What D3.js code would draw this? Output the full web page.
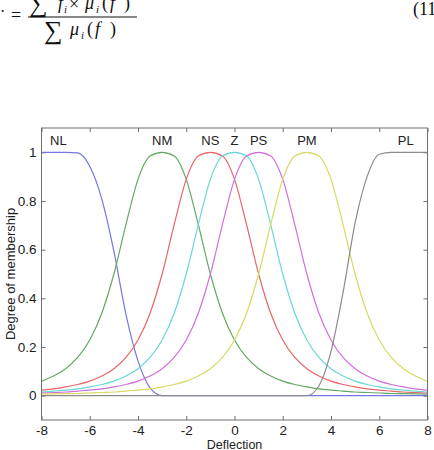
<!DOCTYPE html>
<html>
<head>
<meta charset="utf-8">
<script src="https://cdn.jsdelivr.net/npm/d3@7"></script>
<style>
  body { margin: 0; background: #fff; }
  svg { display: block; }
  .tick text { font-family: "Liberation Sans", Arial, sans-serif; font-size: 13.5px; fill: #222; }
  .eq { font-family: "Liberation Serif", "Times New Roman", serif; fill: #111; }
</style>
</head>
<body>
<div id="chart"></div>
<script>
// membership function data, sampled along the deflection axis
var deflection = [-8, -7.5, -7, -6.5, -6, -5.5, -5, -4.5, -4, -3.5, -3, -2.5, -2, -1.5, -1, -0.5,
  0, 0.5, 1, 1.5, 2, 2.5, 3, 3.5, 4, 4.5, 5, 5.5, 6, 6.5, 7, 7.5, 8];

var mfNames = ["NL", "NM", "NS", "Z", "PS", "PM", "PL"];
var mfColors = ["#7676e4", "#64a864", "#e86669", "#68d8d8", "#d26edc", "#d8da62", "#8c8c8c"];
var labelX = [-7.3, -3, -1, 0, 1, 3, 7.1];

var NL = [1, 1, 1, 0.998, 0.943, 0.808, 0.594, 0.334, 0.143, 0.032, 0,
  0, 0, 0, 0, 0, 0, 0, 0, 0, 0, 0, 0, 0, 0, 0, 0, 0, 0, 0, 0, 0, 0];
var NM = [0.060, 0.081, 0.111, 0.157, 0.229, 0.339, 0.5, 0.703, 0.889, 0.985, 1,
  0.985, 0.889, 0.703, 0.5, 0.339, 0.229, 0.157, 0.111, 0.081, 0.060, 0.046,
  0.036, 0.028, 0.023, 0.019, 0.015, 0.013, 0.011, 0.009, 0.008, 0.007, 0.006];
var NS = [0.023, 0.028, 0.036, 0.046, 0.060, 0.081, 0.111, 0.157, 0.229, 0.339, 0.5,
  0.703, 0.889, 0.985, 1, 0.985, 0.889, 0.703, 0.5, 0.339, 0.229, 0.157,
  0.111, 0.081, 0.060, 0.046, 0.036, 0.028, 0.023, 0.019, 0.015, 0.013, 0.011];
var Z = [0.015, 0.019, 0.023, 0.028, 0.036, 0.046, 0.060, 0.081, 0.111, 0.157, 0.229,
  0.339, 0.5, 0.703, 0.889, 0.985, 1, 0.985, 0.889, 0.703, 0.5, 0.339,
  0.229, 0.157, 0.111, 0.081, 0.060, 0.046, 0.036, 0.028, 0.023, 0.019, 0.015];
var PS = [0.011, 0.013, 0.015, 0.019, 0.023, 0.028, 0.036, 0.046, 0.060, 0.081, 0.111,
  0.157, 0.229, 0.339, 0.5, 0.703, 0.889, 0.985, 1, 0.985, 0.889, 0.703,
  0.5, 0.339, 0.229, 0.157, 0.111, 0.081, 0.060, 0.046, 0.036, 0.028, 0.023];
var PM = [0.006, 0.007, 0.008, 0.009, 0.011, 0.013, 0.015, 0.019, 0.023, 0.028, 0.036,
  0.046, 0.060, 0.081, 0.111, 0.157, 0.229, 0.339, 0.5, 0.703, 0.889, 0.985,
  1, 0.985, 0.889, 0.703, 0.5, 0.339, 0.229, 0.157, 0.111, 0.081, 0.060];
var PL = [0, 0, 0, 0, 0, 0, 0, 0, 0, 0, 0, 0, 0, 0, 0, 0, 0, 0, 0, 0, 0, 0,
  0, 0.041, 0.182, 0.424, 0.710, 0.901, 0.992, 1, 1, 1, 1];

var xTicks = [-8, -6, -4, -2, 0, 2, 4, 6, 8];
var xTickLabels = ["-8", "-6", "-4", "-2", "0", "2", "4", "6", "8"];
var yTicks = [0, 0.2, 0.4, 0.6, 0.8, 1];
var yTickLabels = ["0", "0.2", "0.4", "0.6", "0.8", "1"];

var W = 434, H = 450;
var svg = d3.select("#chart").append("svg").attr("width", W).attr("height", H);

// equation fragment above the figure (cut off at the top, as in the page)
var eq = svg.append("g").attr("class", "eq");
var eqText = function(t, px, py, size, italic){
	eq.append("text").attr("x", px).attr("y", py).attr("font-size", size)
	.attr("font-style", italic ? "italic" : "normal").text(t);
};
eqText("\u00b7", 0, 17, 16);
eqText("=", 11, 21, 18);
eqText("\u2211", 29, 12, 26);
eqText("f", 58, 9, 18, true);
eqText("i", 64, 13, 11, true);
eqText("\u00d7", 69, 10, 18);
eqText("\u03bc", 85, 9, 18, true);
eqText("i", 96, 13, 11, true);
eqText("(", 102, 9, 18);
eqText("f", 110, 9, 18, true);
eqText(")", 124, 9, 18);
eq.append("line").attr("x1", 28).attr("x2", 137).attr("y1", 17).attr("y2", 17)
	.attr("stroke", "#111").attr("stroke-width", 1);
eqText("\u2211", 44, 39, 26);
eqText("\u03bc", 70, 35, 18, true);
eqText("i", 81, 39, 11, true);
eqText("(", 87, 35, 18);
eqText("f", 95, 35, 18, true);
eqText(")", 110, 35, 18);
eqText("(11", 413, 15, 18);

// plot area (window.top is reserved, so use other names)
var pLeft = 41.5, pRight = 427.5, pTop = 128, pBottom = 420;
var x = d3.scaleLinear().domain([-8, 8]).range([pLeft, pRight]);
var y = d3.scaleLinear().domain([-0.1, 1.1]).range([pBottom, pTop]);

var axisColor = "#6e6e6e";
var styleAxis = function(g){
	g.select(".domain").remove();
	g.selectAll(".tick line").attr("stroke", axisColor);
	g.attr("font-family", null).attr("font-size", null);
};

svg.append("g").attr("transform", "translate(0," + pBottom + ")")
	.call(d3.axisBottom(x).tickValues(xTicks).tickSize(-4).tickPadding(5)
		.tickFormat(function(d, i){ return xTickLabels[i]; }))
	.call(styleAxis);
svg.append("g").attr("transform", "translate(0," + pTop + ")")
	.call(d3.axisTop(x).tickValues(xTicks).tickSize(-4).tickFormat(""))
	.call(styleAxis);
svg.append("g").attr("transform", "translate(" + pLeft + ",0)")
	.call(d3.axisLeft(y).tickValues(yTicks).tickSize(-4).tickPadding(5)
		.tickFormat(function(d, i){ return yTickLabels[i]; }))
	.call(styleAxis);
svg.append("g").attr("transform", "translate(" + pRight + ",0)")
	.call(d3.axisRight(y).tickValues(yTicks).tickSize(-4).tickFormat(""))
	.call(styleAxis);

// curves
var series = [NL, NM, NS, Z, PS, PM, PL];
var line = d3.line()
	.x(function(d, i){ return x(deflection[i]); })
	.y(function(d){ return y(d); })
	.curve(d3.curveMonotoneX);

svg.append("g").selectAll("path")
	.data(series)
	.enter()
	.append("path")
	.attr("d", function(d){ return line(d); })
	.attr("fill", "none")
	.attr("stroke", function(d, i){ return mfColors[i]; })
	.attr("stroke-width", 1.2);

// mf names along the top
svg.append("g").selectAll("text")
	.data(mfNames)
	.enter()
	.append("text")
	.attr("x", function(d, i){ return x(labelX[i]); })
	.attr("y", 145)
	.attr("text-anchor", "middle")
	.attr("font-family", "Liberation Sans, Arial, sans-serif")
	.attr("font-size", 13)
	.attr("fill", "#222")
	.text(function(d){ return d; });

// box
svg.append("rect")
	.attr("x", pLeft).attr("y", pTop)
	.attr("width", pRight - pLeft).attr("height", pBottom - pTop)
	.attr("fill", "none")
	.attr("stroke", axisColor)
	.attr("stroke-width", 1);

// axis titles
svg.append("text")
	.attr("x", (pLeft + pRight) / 2)
	.attr("y", 449)
	.attr("text-anchor", "middle")
	.attr("font-family", "Liberation Sans, Arial, sans-serif")
	.attr("font-size", 12.5)
	.attr("fill", "#222")
	.text("Deflection");

svg.append("text")
	.attr("transform", "translate(15," + ((pTop + pBottom) / 2) + ") rotate(-90)")
	.attr("text-anchor", "middle")
	.attr("font-family", "Liberation Sans, Arial, sans-serif")
	.attr("font-size", 13)
	.attr("fill", "#222")
	.text("Degree of membership");
</script>
</body>
</html>
